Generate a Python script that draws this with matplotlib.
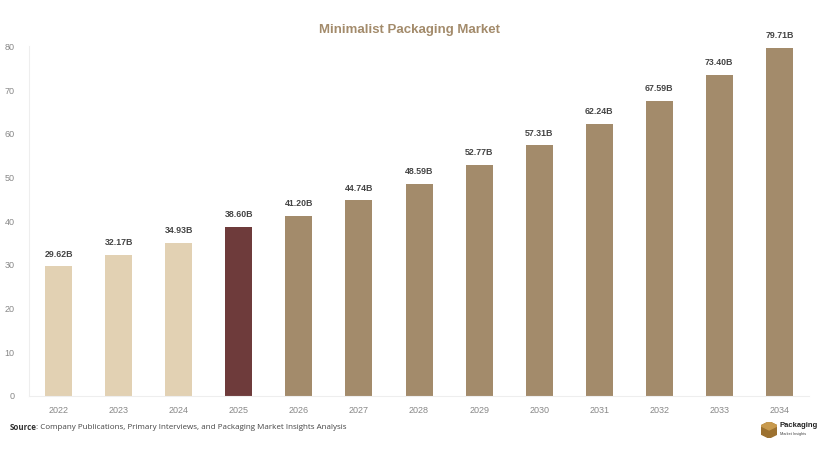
import matplotlib
matplotlib.use('Agg')
import matplotlib.pyplot as plt
from matplotlib.patches import Polygon

years = ['2022', '2023', '2024', '2025', '2026', '2027', '2028',
         '2029', '2030', '2031', '2032', '2033', '2034']
values = [29.62, 32.17, 34.93, 38.60, 41.20, 44.74, 48.59,
          52.77, 57.31, 62.24, 67.59, 73.40, 79.71]
labels = ['29.62B', '32.17B', '34.93B', '38.60B', '41.20B', '44.74B', '48.59B',
          '52.77B', '57.31B', '62.24B', '67.59B', '73.40B', '79.71B']

hist_c = '#E2D1B3'
base_c = '#6E3B3B'
fcst_c = '#A38B6B'
colors = [hist_c] * 3 + [base_c] + [fcst_c] * 9

plt.rcParams['font.family'] = ['Liberation Sans', 'DejaVu Sans']

fig = plt.figure(figsize=(8.2, 4.54), dpi=100)
ax = fig.add_axes([0.035, 0.128, 0.952, 0.770])
x = list(range(len(years)))
bars = ax.bar(x, values, width=0.45, color=colors, edgecolor='none')
for xi, v, lab in zip(x, values, labels):
    ax.text(xi, v + 1.8, lab, ha='center', va='bottom', fontsize=6.3,
            fontweight='bold', color='#444444')

ax.set_xlim(-0.5, 12.5)
ax.set_ylim(0, 80)
ax.set_yticks(range(0, 81, 10))
ax.set_xticks(x)
ax.set_xticklabels(years)
ax.tick_params(axis='both', length=0, labelsize=6.5, colors='#888888')
ax.tick_params(axis='x', pad=7)
ax.tick_params(axis='y', pad=10)
for s in ['top', 'right']:
    ax.spines[s].set_visible(False)
ax.spines['left'].set_color('#eeeeee')
ax.spines['bottom'].set_color('#eeeeee')

fig.text(0.5, 0.934, 'Minimalist Packaging Market', ha='center', va='center',
         fontsize=9.5, fontweight='bold', color=fcst_c)

fig.text(0.012, 0.058, 'Source', ha='left', va='center', fontsize=5.8,
         fontweight='bold', color='#333333', family=['Open Sans', 'DejaVu Sans'])
fig.text(0.0445, 0.058, ': Company Publications, Primary Interviews, and Packaging Market Insights Analysis',
         ha='left', va='center', fontsize=5.8, color='#444444',
         family=['Open Sans', 'DejaVu Sans'])

# logo
lax = fig.add_axes([0.928, 0.035, 0.02, 0.036])
lax.axis('off')
lax.set_xlim(0, 1)
lax.set_ylim(0, 1)
lax.add_patch(Polygon([[0.5, 1], [1, 0.75], [1, 0.25], [0.5, 0], [0, 0.25], [0, 0.75]],
                      closed=True, color='#9C7130'))
lax.add_patch(Polygon([[0.5, 1], [1, 0.75], [0.5, 0.5], [0, 0.75]],
                      closed=True, color='#C89A4E'))
fig.text(0.951, 0.062, 'Packaging', ha='left', va='center', fontsize=5.5,
         fontweight='bold', color='#222222')
fig.text(0.951, 0.043, 'Market Insights', ha='left', va='center', fontsize=2.8,
         color='#444444')

fig.savefig('out.png', dpi=100, facecolor='white')
